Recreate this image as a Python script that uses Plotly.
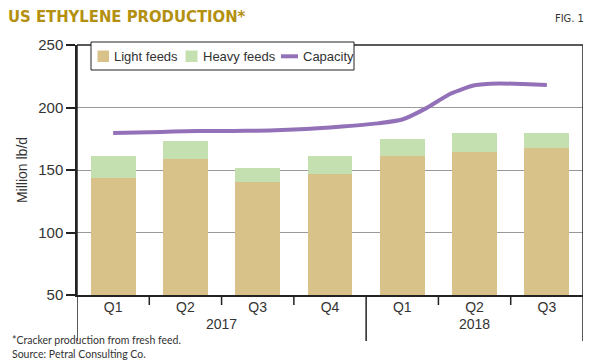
import plotly.graph_objects as go

# ---- data ----
quarters = ["Q1", "Q2", "Q3", "Q4", "Q1", "Q2", "Q3"]
years = ["2017", "2017", "2017", "2017", "2018", "2018", "2018"]
light_feeds = [143.8, 158.8, 140.7, 146.5, 161.4, 164.7, 167.8]
heavy_feeds = [17.4, 14.4, 11.2, 14.7, 13.4, 14.6, 11.5]
months = ["Feb 2017", "Mar 2017", "Apr 2017", "May 2017", "Jun 2017", "Jul 2017",
          "Aug 2017", "Sep 2017", "Oct 2017", "Nov 2017", "Dec 2017", "Jan 2018",
          "Feb 2018", "Mar 2018", "Apr 2018", "May 2018", "Jun 2018", "Jul 2018",
          "Aug 2018"]
capacity = [179.6, 180.1, 180.5, 181.0, 181.2, 181.3, 181.4, 182.0, 182.8, 184.0,
            185.5, 187.3, 190.4, 199.5, 211.0, 217.8, 219.2, 218.8, 218.0]
y_ticks = [50, 100, 150, 200, 250]
year_labels = ["2017", "2018"]

C_LIGHT = "#D9C28A"
C_HEAVY = "#C4E0B1"
C_CAP = "#9371B8"
TXT = "#333333"
FONT = "Liberation Sans, Arial, sans-serif"
NARROW = ("Noto Sans ExtraCondensed, Noto Sans Condensed, DejaVu Sans Condensed, "
          "Liberation Sans Narrow, Liberation Sans, sans-serif")

xpos = list(range(len(quarters)))

fig = go.Figure()
fig.add_trace(go.Bar(x=xpos, y=light_feeds, name="Light feeds", marker_color=C_LIGHT,
                     marker_line_width=0, width=0.62, showlegend=False))
fig.add_trace(go.Bar(x=xpos, y=heavy_feeds, name="Heavy feeds", marker_color=C_HEAVY,
                     marker_line_width=0, width=0.62, showlegend=False))
fig.add_trace(go.Scatter(x=months, y=capacity, name="Capacity", mode="lines",
                         line=dict(color=C_CAP, width=4, shape="spline", smoothing=0.6),
                         xaxis="x2", showlegend=False))

# paper-coordinate helpers (plot area 77..583 x, 45..295 y)
L, R, T, B = 77, 17, 45, 67
PW, PH = 600 - L - R, 362 - T - B
def px(x):
    return (x - L) / PW
def py(y):
    return (362 - B - y) / PH

shapes = []
line_k = dict(color="#222222", width=1.5)
for xv, y0 in [(-0.5, 1), (3.5, 0), (6.5, 1)]:
    shapes.append(dict(type="line", xref="x", yref="paper", x0=xv, x1=xv,
                       y0=y0, y1=py(341), line=line_k))
shapes.append(dict(type="line", xref="paper", yref="paper", x0=0, x1=1, y0=1, y1=1,
                   line=line_k))
for xv in [0.5, 1.5, 2.5, 4.5, 5.5]:
    shapes.append(dict(type="line", xref="x", yref="paper", x0=xv, x1=xv,
                       y0=0, y1=py(305), line=line_k))

# legend box
shapes.append(dict(type="rect", xref="paper", yref="paper", x0=px(91), x1=px(354),
                   y0=py(70), y1=py(42), fillcolor="white",
                   line=dict(color="#222222", width=1)))
shapes.append(dict(type="rect", xref="paper", yref="paper", x0=px(97.5), x1=px(109),
                   y0=py(62), y1=py(50.5), fillcolor=C_LIGHT, line=dict(width=0)))
shapes.append(dict(type="rect", xref="paper", yref="paper", x0=px(185.5), x1=px(197.5),
                   y0=py(62), y1=py(50.5), fillcolor=C_HEAVY, line=dict(width=0)))
shapes.append(dict(type="line", xref="paper", yref="paper", x0=px(281), x1=px(298),
                   y0=py(56.3), y1=py(56.3), line=dict(color=C_CAP, width=4)))

annotations = []
for txt, x0 in [("Light feeds", 112), ("Heavy feeds", 201), ("Capacity", 301)]:
    annotations.append(dict(text=txt, xref="paper", yref="paper", x=px(x0), y=py(56.5),
                            xanchor="left", yanchor="middle", showarrow=False,
                            font=dict(family=FONT, size=13, color=TXT)))
for txt, xc in zip(year_labels, [1.5, 5.0]):
    annotations.append(dict(text=txt, xref="x", yref="paper", x=xc, y=py(324),
                            xanchor="center", yanchor="middle", showarrow=False,
                            font=dict(family=FONT, size=14, color=TXT)))
annotations.append(dict(text="FIG. 1", xref="paper", yref="paper", x=px(586), y=py(19),
                        xanchor="right", yanchor="middle", showarrow=False,
                        font=dict(family=NARROW, size=11, color=TXT)))
annotations.append(dict(text="*Cracker production from fresh feed.", xref="paper",
                        yref="paper", x=px(10), y=py(340), xanchor="left",
                        yanchor="middle", showarrow=False,
                        font=dict(family="Lato, sans-serif", size=10.5, color=TXT)))
annotations.append(dict(text="Source: Petral Consulting Co.", xref="paper",
                        yref="paper", x=px(10), y=py(354), xanchor="left",
                        yanchor="middle", showarrow=False,
                        font=dict(family="Lato, sans-serif", size=10.5, color=TXT)))

fig.update_layout(
    width=600, height=362,
    margin=dict(l=L, r=R, t=T, b=B, pad=0, autoexpand=False),
    paper_bgcolor="white", plot_bgcolor="white",
    barmode="stack", bargap=0.38,
    title=dict(text="<b>US ETHYLENE PRODUCTION*</b>", xref="container", yref="container",
               x=8 / 600, xanchor="left", y=1 - 10 / 362, yanchor="top", automargin=False,
               font=dict(family=NARROW, size=16.5, color="#B3900F")),
    xaxis=dict(range=[-0.5, 6.5], tickvals=xpos, ticktext=quarters, ticks="",
               showgrid=False, showline=True, linecolor="#222222", linewidth=1.5,
               zeroline=False, automargin=False, ticklabelstandoff=-2,
               tickfont=dict(family=FONT, size=14, color=TXT)),
    xaxis2=dict(type="category", overlaying="x", range=[-1.5, 19.5], visible=False,
                categoryorder="array", categoryarray=months),
    yaxis=dict(range=[50, 250], tickvals=y_ticks, ticks="outside", ticklen=9,
               tickwidth=1.5, tickcolor="#222222", showline=True, linecolor="#222222",
               linewidth=1.5, showgrid=True, gridcolor="#9a9a9a", gridwidth=1,
               zeroline=False, automargin=False,
               tickfont=dict(family=FONT, size=15, color=TXT),
               title=dict(text="Million lb/d", standoff=7,
                          font=dict(family=FONT, size=14, color=TXT))),
    shapes=shapes,
    annotations=annotations,
    showlegend=False,
)

fig.write_html("out.html", config={"displayModeBar": False},
               post_script="document.body.style.margin='0px';")
